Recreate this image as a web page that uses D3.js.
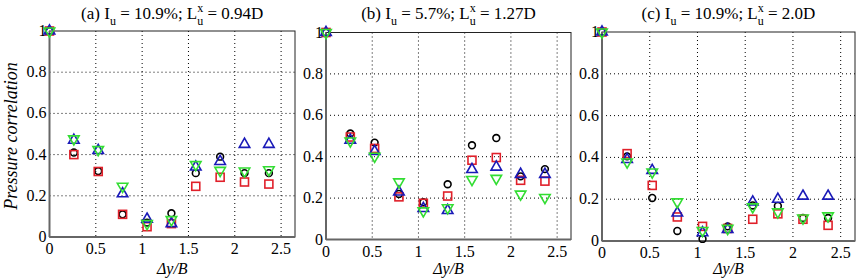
<!DOCTYPE html>
<html><head><meta charset="utf-8">
<script src="https://cdn.jsdelivr.net/npm/d3@7"></script>
<style>body{margin:0;background:#fff}svg{display:block}
svg text{font-family:"Liberation Serif","Times New Roman",Times,"Tinos","Nimbus Roman","Noto Serif","DejaVu Serif",serif;}
</style>
</head><body>
<svg id="c" width="866" height="280"></svg>
<script>
const xVals = [0, 0.263, 0.526, 0.789, 1.053, 1.316, 1.579, 1.842, 2.105, 2.368];
const xTicks = [0, 0.5, 1, 1.5, 2, 2.5];
const yTicks = [0, 0.2, 0.4, 0.6, 0.8, 1];
const panelLetters = ["(a)", "(b)", "(c)"];
const panelIu = ["10.9%", "5.7%", "10.9%"];
const panelLux = ["0.94D", "1.27D", "2.0D"];
// series per panel: black circle, red square, blue up-triangle, green down-triangle
const aBlack = [1, 0.41, 0.32, 0.11, 0.07, 0.115, 0.31, 0.39, 0.31, 0.31];
const aRed   = [1, 0.40, 0.318, 0.11, 0.05, 0.065, 0.246, 0.29, 0.267, 0.257];
const aBlue  = [1, 0.47, 0.42, 0.21, 0.087, 0.065, 0.34, 0.367, 0.45, 0.45];
const aGreen = [1, 0.476, 0.424, 0.246, 0.065, 0.084, 0.351, 0.323, 0.32, 0.326];
const bBlack = [1, 0.512, 0.468, 0.22, 0.18, 0.267, 0.455, 0.49, 0.305, 0.34];
const bRed   = [1, 0.495, 0.44, 0.206, 0.175, 0.21, 0.383, 0.396, 0.286, 0.282];
const bBlue  = [1, 0.48, 0.425, 0.23, 0.15, 0.14, 0.338, 0.35, 0.315, 0.315];
const bGreen = [1, 0.476, 0.402, 0.278, 0.138, 0.153, 0.29, 0.295, 0.219, 0.203];
const cBlack = [1, 0.405, 0.206, 0.048, 0.01, 0.07, 0.17, 0.168, 0.11, 0.11];
const cRed   = [1, 0.418, 0.266, 0.115, 0.07, 0.06, 0.104, 0.13, 0.104, 0.075];
const cBlue  = [1, 0.39, 0.338, 0.134, 0.04, 0.055, 0.187, 0.2, 0.215, 0.215];
const cGreen = [1, 0.378, 0.33, 0.187, 0.05, 0.06, 0.163, 0.139, 0.11, 0.12];
const panelData = [[aBlack, aRed, aBlue, aGreen],[bBlack, bRed, bBlue, bGreen],[cBlack, cRed, cBlue, cGreen]];
const seriesColors = ["#000000", "#e0202a", "#1a1ab8", "#33dd33"];
const seriesShapes = ["circle", "square", "up", "down"];

const svg = d3.select("#c");
const boxes = [
  {l: 49.5, r: 295, t: 31, b: 237},
  {l: 326, r: 571, t: 32.5, b: 239.5},
  {l: 602, r: 855, t: 32, b: 241}
];
const fmt = d => d === 0 ? "0" : (d === 1 ? "1" : String(d));

boxes.forEach((bx, pi) => {
  const x = d3.scaleLinear().domain([0, 2.65]).range([bx.l, bx.r]);
  const y = d3.scaleLinear().domain([0, 1]).range([bx.b, bx.t]);
  const g = svg.append("g");
  g.selectAll(".gx").data(xTicks.filter(t => t > 0)).join("line")
    .attr("x1", d => x(d)).attr("x2", d => x(d)).attr("y1", bx.t).attr("y2", bx.b)
    .attr("stroke", "#000").attr("stroke-width", 1).attr("stroke-dasharray", "1,3");
  g.selectAll(".gy").data(yTicks.filter(t => t > 0 && t < 1)).join("line")
    .attr("x1", bx.l).attr("x2", bx.r).attr("y1", d => y(d)).attr("y2", d => y(d))
    .attr("stroke", "#000").attr("stroke-width", 1).attr("stroke-dasharray", "1,3");
  g.append("rect").attr("x", bx.l).attr("y", bx.t).attr("width", bx.r - bx.l).attr("height", bx.b - bx.t)
    .attr("fill", "none").attr("stroke", "#222").attr("stroke-width", 1);
  g.append("line").attr("x1", bx.l).attr("x2", bx.l).attr("y1", bx.t).attr("y2", bx.b)
    .attr("stroke", "#666").attr("stroke-width", 2);
  g.append("line").attr("x1", bx.l).attr("x2", bx.r).attr("y1", bx.b).attr("y2", bx.b)
    .attr("stroke", "#666").attr("stroke-width", 2);
  g.selectAll(".xt").data(xTicks).join("text")
    .attr("x", d => x(d)).attr("y", bx.b + 17).attr("text-anchor", "middle")
    .attr("font-size", 16).text(fmt);
  g.selectAll(".yt").data(yTicks).join("text")
    .attr("x", bx.l - 3).attr("y", d => y(d) + 5).attr("text-anchor", "end")
    .attr("font-size", 16).text(fmt);
  g.append("text").attr("x", (bx.l + bx.r) / 2).attr("y", 274).attr("text-anchor", "middle")
    .attr("font-size", 16).attr("font-style", "italic").text("Δy/B");
  const cx = (bx.l + bx.r) / 2;
  const t = g.append("text").attr("x", cx).attr("y", 19).attr("text-anchor", "middle").attr("font-size", 17);
  t.append("tspan").text(panelLetters[pi] + " I");
  t.append("tspan").attr("font-size", 12).attr("dy", 6).text("u");
  t.append("tspan").attr("dy", -6).text(" = " + panelIu[pi] + "; L");
  t.append("tspan").attr("font-size", 12).attr("dy", -7).text("x");
  t.append("tspan").attr("font-size", 12).attr("dx", -6).attr("dy", 13).text("u");
  t.append("tspan").attr("dy", -6).text(" = " + panelLux[pi]);
  panelData[pi].forEach((vals, si) => {
    const shape = seriesShapes[si];
    const sg = g.append("g").attr("fill", "none").attr("stroke", seriesColors[si]).attr("stroke-width", 1.6);
    const pts = vals.map((v, i) => [x(xVals[i]), y(v)]);
    if (shape === "circle") {
      sg.selectAll("circle").data(pts).join("circle").attr("cx", d => d[0]).attr("cy", d => d[1]).attr("r", 3.4);
    } else if (shape === "square") {
      sg.selectAll("rect").data(pts).join("rect").attr("x", d => d[0] - 4).attr("y", d => d[1] - 4)
        .attr("width", 8).attr("height", 8);
    } else {
      const sym = d3.symbol().type(d3.symbolTriangle).size(48);
      sg.selectAll("path").data(pts).join("path")
        .attr("transform", d => `translate(${d[0]},${d[1]})` + (shape === "down" ? " rotate(180)" : ""))
        .attr("d", sym);
    }
  });
});
svg.append("text").attr("transform", "translate(17,136) rotate(-90)").attr("text-anchor", "middle")
  .attr("font-size", 18).attr("font-style", "italic").text("Pressure correlation");
</script>
</body></html>
